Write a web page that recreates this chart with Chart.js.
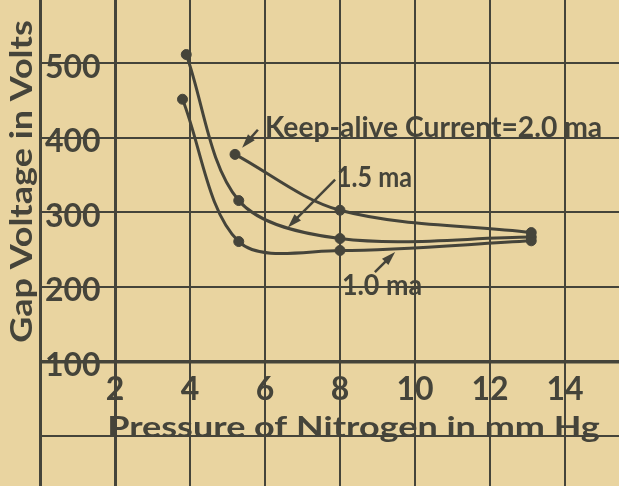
<!DOCTYPE html>
<html>
<head>
<meta charset="utf-8">
<script src="https://cdn.jsdelivr.net/npm/chart.js@4/dist/chart.umd.min.js"></script>
<style>
  html, body { margin: 0; padding: 0; background: #e9d4a0; }
  #wrap { width: 619px; height: 486px; }
</style>
</head>
<body>
<div id="wrap"><canvas id="gapChart" width="619" height="486"></canvas></div>
<script>
// valores (presion en mm Hg, voltaje en V)
const pressure20 = [5.2, 8.0, 13.1];
const volts20 = [378, 303, 273];
const pressure15 = [3.9, 5.3, 8.0, 13.1];
const volts15 = [512, 316, 265, 267];
const pressure10 = [3.8, 5.3, 8.0, 13.1];
const volts10 = [452, 261, 249, 262];

const xTicks = [2, 4, 6, 8, 10, 12, 14];
const yTicks = [100, 200, 300, 400, 500];

const INK = '#45443a';
const FONT = 'Lato';

function toPoints(xs, ys) {
    return xs.map((x, i) => ({ x: x, y: ys[i] }));
}

// texto ajustado a un ancho fijo (el original tiene letras muy espaciadas)
function fitText(ctx, text, x, y, width, angle) {
    ctx.save();
    ctx.translate(x, y);
    if (angle) ctx.rotate(angle);
    const w = ctx.measureText(text).width;
    ctx.scale(width / w, 1);
    ctx.fillText(text, 0, 0);
    ctx.restore();
}

function arrow(ctx, x1, y1, x2, y2) {
    const a = Math.atan2(y2 - y1, x2 - x1);
    ctx.beginPath();
    ctx.moveTo(x1, y1);
    ctx.lineTo(x2 - 8 * Math.cos(a), y2 - 8 * Math.sin(a));
    ctx.stroke();
    ctx.beginPath();
    ctx.moveTo(x2, y2);
    ctx.lineTo(x2 - 14 * Math.cos(a) + 4.5 * Math.sin(a), y2 - 14 * Math.sin(a) - 4.5 * Math.cos(a));
    ctx.lineTo(x2 - 14 * Math.cos(a) - 4.5 * Math.sin(a), y2 - 14 * Math.sin(a) + 4.5 * Math.cos(a));
    ctx.closePath();
    ctx.fill();
}

const notesPlugin = {
    id: 'notes',
    afterDatasetsDraw(chart) {
        const ctx = chart.ctx;
        const sx = chart.scales.x, sy = chart.scales.y;
        const px = v => sx.getPixelForValue(v);
        const py = v => sy.getPixelForValue(v);
        ctx.save();
        ctx.fillStyle = INK;
        ctx.strokeStyle = INK;
        ctx.lineWidth = 2.5;
        ctx.textAlign = 'left';
        ctx.textBaseline = 'alphabetic';
        ctx.font = 'bold 28px ' + FONT;

        // titulos de los ejes
        fitText(ctx, 'Pressure of Nitrogen in mm Hg', px(1.79), py(-1.3), px(14.93) - px(1.79));
        ctx.font = 'bold 30px ' + FONT;
        fitText(ctx, 'Gap Voltage in Volts', px(-0.21), py(125), py(125) - py(558), -Math.PI / 2);
        ctx.font = 'bold 28px ' + FONT;

        // etiquetas de las curvas
        fitText(ctx, 'Keep-alive Current=2.0 ma', px(6.0), py(401), px(14.99) - px(6.0));
        fitText(ctx, '1.5 ma', px(7.92), py(334), px(9.92) - px(7.92));
        fitText(ctx, '1.0 ma', px(8.05), py(189), px(10.19) - px(8.05));

        arrow(ctx, px(5.81), py(411), px(5.39), py(387));
        arrow(ctx, px(7.87), py(344), px(6.61), py(280));
        arrow(ctx, px(8.93), py(220), px(9.47), py(247));
        ctx.restore();
    }
};

function curve(xs, ys) {
    return {
        data: toPoints(xs, ys),
        showLine: true,
        borderColor: INK,
        backgroundColor: INK,
        borderWidth: 3,
        pointRadius: 5,
        pointBorderWidth: 1,
        tension: 0.33,
        fill: false,
        clip: false
    };
}

// sin margenes extra: el papel cuadriculado llena todo el lienzo
function noPadding(scale) {
    scale.paddingTop = 0;
    scale.paddingBottom = 0;
    scale.paddingLeft = 0;
    scale.paddingRight = 0;
}

new Chart(document.getElementById('gapChart'), {
    type: 'scatter',
    data: {
        datasets: [
            curve(pressure20, volts20),
            curve(pressure15, volts15),
            curve(pressure10, volts10)
        ]
    },
    options: {
        responsive: false,
        animation: false,
        layout: { autoPadding: false, padding: { left: 40, top: 0, right: 0, bottom: 0 } },
        plugins: {
            legend: { display: false },
            tooltip: { enabled: false }
        },
        scales: {
            x: {
                type: 'linear',
                position: { y: 100 },
                min: 0,
                max: 15.44,
                afterFit: noPadding,
                border: { display: false },
                grid: {
                    color: INK,
                    drawTicks: false,
                    lineWidth: c => (c.tick && (c.tick.value === 0 || c.tick.value === 2)) ? 3 : 2
                },
                ticks: {
                    stepSize: 2,
                    includeBounds: false,
                    padding: 9,
                    color: INK,
                    font: { family: FONT, size: 32, weight: 'bold' },
                    callback: v => xTicks.includes(v) ? String(v) : ''
                }
            },
            y: {
                type: 'linear',
                position: 'left',
                min: -67.1,
                max: 585.2,
                afterFit: s => { noPadding(s); s.width = 0; },
                border: { display: false },
                grid: {
                    color: INK,
                    drawTicks: false,
                    lineWidth: c => (c.tick && c.tick.value === 100) ? 3.5 : 2
                },
                ticks: {
                    stepSize: 100,
                    includeBounds: false,
                    mirror: true,
                    padding: 5,
                    labelOffset: 4,
                    color: INK,
                    font: { family: FONT, size: 32, weight: 'bold' },
                    callback: v => yTicks.includes(v) ? String(v) : ''
                }
            }
        }
    },
    plugins: [notesPlugin]
});
</script>
</body>
</html>
